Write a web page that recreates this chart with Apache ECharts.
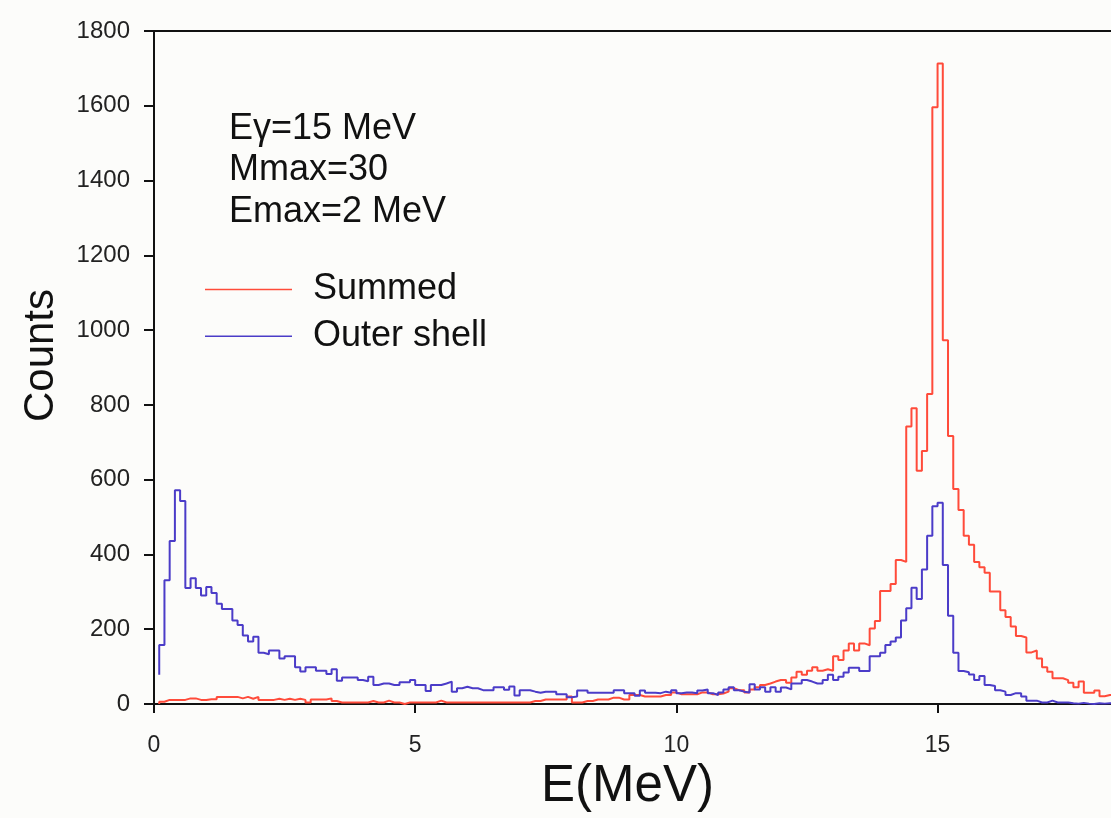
<!DOCTYPE html>
<html>
<head>
<meta charset="utf-8">
<script src="https://cdn.jsdelivr.net/npm/echarts@6/dist/echarts.min.js"></script>
<style>
html,body{margin:0;padding:0;background:#fcfcfa;}
#chart{width:1111px;height:818px;}
</style>
</head>
<body>
<div id="chart"></div>
<script>
// Histogram bins: bin k covers [0.1k, 0.1(k+1)] MeV
const binWidth = 0.1;
const xTicks = [0, 5, 10, 15];
const yTicks = [0, 200, 400, 600, 800, 1000, 1200, 1400, 1600, 1800];
const seriesNames = ['Summed', 'Outer shell'];
const annotationLines = ['Eγ=15 MeV', 'Mmax=30', 'Emax=2 MeV'];

const summedCounts = [
  0,6,11,11,11,11,15,15,11,11,
  13,13,19,19,19,19,15,19,14,19,
  11,11,11,14,11,14,11,14,11,4,
  12,12,12,15,8,4,4,4,4,4,
  4,8,4,4,9,4,4,0,4,4,
  4,4,4,4,9,4,4,4,4,4,
  4,4,4,4,4,4,4,4,4,4,
  4,4,8,8,12,12,12,12,12,20,
  4,4,8,8,12,12,12,17,17,12,
  12,24,24,20,20,20,20,24,24,31,
  26,26,26,26,31,31,26,26,28,33,
  42,37,37,31,39,45,51,55,60,64,
  64,57,71,86,78,89,98,89,93,89,
  128,118,143,162,143,162,157,202,222,302,
  302,321,385,380,742,791,624,677,829,1596,
  1713,973,717,575,519,450,426,380,366,351,
  301,301,251,233,207,182,178,138,143,122,
  98,86,69,69,64,57,45,60,30,30,
  36,21,24,24
];

const outerShellCounts = [
  78,158,331,436,572,543,310,336,310,290,
  313,297,268,254,254,223,211,183,167,180,
  137,133,143,143,122,128,128,98,87,98,
  98,89,89,80,93,62,71,71,71,64,
  61,73,51,55,55,51,51,58,58,64,
  51,51,35,51,51,55,60,33,42,46,
  42,42,37,37,37,45,45,38,47,23,
  37,37,33,30,33,33,33,26,26,18,
  20,36,36,30,30,30,30,30,37,37,
  29,29,22,36,30,30,29,33,30,37,
  29,31,31,29,36,39,29,24,31,39,
  45,37,33,31,53,39,45,33,45,33,
  44,39,55,55,64,60,55,55,64,78,
  64,73,84,97,97,88,88,128,128,137,
  158,167,178,223,256,311,281,360,450,529,
  538,372,236,137,88,85,79,64,75,51,
  48,37,33,24,29,29,20,9,9,4,
  4,9,4,4,4,2,1,3,1,0,
  2,1,2,1
];

// step 'start': each point sits at a bin's right edge with that bin's count
function toSteps(counts) {
  return counts.map((v, k) => [Number(((k + 1) * binWidth).toFixed(2)), v]);
}

const FONT = '"Liberation Sans", Arial, sans-serif';
const RED = '#ff4b3a';
const BLUE = '#4b3cc8';

const chart = echarts.init(document.getElementById('chart'), null, {renderer: 'canvas'});
chart.setOption({
  backgroundColor: '#fcfcfa',
  animation: false,
  textStyle: {fontFamily: FONT},
  title: {
    text: annotationLines.join('\n'),
    left: 229, top: 108, padding: 0,
    textStyle: {fontFamily: FONT, fontSize: 36, fontWeight: 'normal', color: '#111', lineHeight: 41.5}
  },
  legend: {
    data: seriesNames,
    orient: 'vertical',
    left: 205, top: 269.5,
    icon: 'rect',
    itemWidth: 87, itemHeight: 1.6,
    itemGap: 6.7,
    padding: 0,
    formatter: '{t|{name}}',
    textStyle: {
      fontFamily: FONT, fontSize: 36, color: '#111',
      rich: {t: {fontFamily: FONT, fontSize: 36, color: '#111', lineHeight: 40, height: 40, padding: [0, 0, 0, 16]}}
    }
  },
  grid: {left: 154, right: 0, top: 31, bottom: 114, containLabel: false},
  xAxis: [{
    type: 'value', min: 0, max: 18.32,
    name: 'E(MeV)', nameLocation: 'middle', nameGap: 56,
    nameTextStyle: {fontFamily: FONT, fontSize: 51, color: '#111', padding: [0, 10, 0, 0]},
    axisLine: {show: true, onZero: false, lineStyle: {color: '#111', width: 2}},
    axisTick: {show: true, inside: false, length: 9, lineStyle: {color: '#111', width: 2},
      customValues: xTicks},
    axisLabel: {
      fontFamily: FONT, fontSize: 23, color: '#222', margin: 30,
      customValues: xTicks
    },
    splitLine: {show: false}
  }, {
    type: 'value', position: 'top', min: 0, max: 18.32,
    axisLine: {show: true, onZero: false, lineStyle: {color: '#111', width: 2}},
    axisTick: {show: false}, axisLabel: {show: false}, splitLine: {show: false}
  }],
  yAxis: {
    type: 'value', min: 0, max: 1800, interval: 200,
    name: 'Counts', nameLocation: 'middle', nameGap: 92, nameRotate: 90,
    nameTextStyle: {fontFamily: FONT, fontSize: 42, color: '#111', padding: [0, 0, 0, 24]},
    axisLine: {show: true, onZero: false, lineStyle: {color: '#111', width: 2}},
    axisTick: {show: true, inside: false, length: 10, lineStyle: {color: '#111', width: 2}},
    axisLabel: {fontFamily: FONT, fontSize: 24, color: '#222', margin: 24,
      formatter: (v) => String(v)},
    splitLine: {show: false}
  },
  series: [{
    name: seriesNames[0], type: 'line', step: 'start', symbol: 'none',
    xAxisIndex: 0,
    data: toSteps(summedCounts),
    lineStyle: {color: RED, width: 2}, itemStyle: {color: RED}
  }, {
    name: seriesNames[1], type: 'line', step: 'start', symbol: 'none',
    xAxisIndex: 0,
    data: toSteps(outerShellCounts),
    lineStyle: {color: BLUE, width: 2}, itemStyle: {color: BLUE}
  }]
});
</script>
</body>
</html>
